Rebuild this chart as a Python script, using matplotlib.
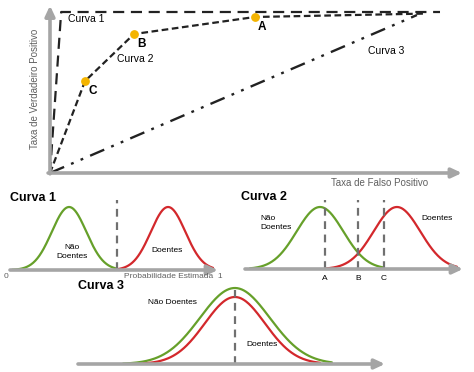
import numpy as np
import matplotlib
matplotlib.use("Agg")
import matplotlib.pyplot as plt

plt.rcParams['font.family'] = ['Liberation Sans', 'DejaVu Sans']

W, H = 474, 372

# ROC curves (false positive rate, true positive rate)
curva1_fpr = [0.0, 0.029, 1.013]
curva1_tpr = [0.0, 1.0, 1.0]
curva2_fpr = [0.0, 0.091, 0.218, 0.532, 0.97]
curva2_tpr = [0.0, 0.571, 0.863, 0.969, 0.99]
curva3_fpr = [0.0, 0.953]
curva3_tpr = [0.0, 0.981]
pontos_nome = ['A', 'B', 'C']
pontos_fpr = [0.532, 0.218, 0.091]
pontos_tpr = [0.969, 0.863, 0.571]

# distributions per panel: mean, sd, height, start, end
c1_sadios = (0.284, 0.083, 63, 0.01, 0.514)
c1_doentes = (0.76, 0.083, 63, 0.514, 0.976)
c1_cortes = [0.514]

c2_sadios = (0.344, 0.107, 62, 0.023, 0.633)
c2_doentes = (0.697, 0.107, 62, 0.367, 0.972)
c2_cortes = [0.367, 0.518, 0.638]
c2_nomes = ['A', 'B', 'C']

c3_sadios = (0.511, 0.114, 76, 0.147, 0.827)
c3_doentes = (0.511, 0.098, 67, 0.212, 0.788)
c3_cortes = [0.511]

GRAY = '#a5a5a5'
GREEN = '#66a02a'
RED = '#d3282c'
DASHGRAY = '#707070'
YELLOW = '#f4b400'
TXTGRAY = '#606060'

fig = plt.figure(figsize=(W / 100, H / 100), dpi=100)


def px_axes(x0, x1, y_base, height):
    # axes placed in pixel units of the figure
    ax = fig.add_axes([x0 / W, (H - y_base) / H, (x1 - x0) / W, height / H])
    ax.set_axis_off()
    return ax


def arrow(ax, x0, y0, x1, y1):
    ax.annotate('', xy=(x1, y1), xytext=(x0, y0), annotation_clip=False,
                arrowprops=dict(arrowstyle='-|>,head_length=0.6,head_width=0.28',
                                color=GRAY, lw=2.6, shrinkA=0, shrinkB=0))


def bell(ax, params, color):
    mu, sd, h, lo, hi = params
    x = np.linspace(lo, hi, 200)
    ax.plot(x, h * np.exp(-0.5 * ((x - mu) / sd) ** 2), color=color, lw=1.6,
            clip_on=False, solid_capstyle='round')


# ---- ROC panel ----
ax = px_axes(50, 435, 173, 161)
ax.set_xlim(0, 1)
ax.set_ylim(0, 1)
arrow(ax, -0.005, 0, 1.07, 0)
arrow(ax, 0, -0.005, 0, 1.04)
ax.plot(curva1_fpr, curva1_tpr, color='#222222', lw=1.6, ls=(0, (5, 3)), clip_on=False)
ax.plot(curva2_fpr, curva2_tpr, color='#222222', lw=1.6, ls=(0, (3, 1.6)), clip_on=False)
ax.plot(curva3_fpr, curva3_tpr, color='#222222', lw=1.7,
        ls=(0, (6.5, 3.2, 1.2, 3.2, 1.2, 3.2)), clip_on=False)
ax.scatter(pontos_fpr, pontos_tpr, s=28, color=YELLOW, zorder=5, clip_on=False)
for n, x, y in zip(pontos_nome, pontos_fpr, pontos_tpr):
    ax.text(x + 0.008, y - 0.025, n, fontsize=8.5, fontweight='bold', va='top', ha='left')
ax.text(0.047, 0.955, 'Curva 1', fontsize=7.5, va='center')
ax.text(0.175, 0.705, 'Curva 2', fontsize=7.5, va='center')
ax.text(0.826, 0.755, 'Curva 3', fontsize=7.5, va='center')
ax.text(-0.04, 0.52, 'Taxa de Verdadeiro Positivo', fontsize=7, color=TXTGRAY,
        rotation=90, ha='center', va='center')
ax.text(0.982, -0.06, 'Taxa de Falso Positivo', fontsize=7, color=TXTGRAY,
        ha='right', va='center')

# ---- Curva 1 panel ----
ax = px_axes(10, 218, 270, 75)
ax.set_xlim(0, 1)
ax.set_ylim(0, 75)
arrow(ax, 0, 0, 1.0, 0)
bell(ax, c1_sadios, GREEN)
bell(ax, c1_doentes, RED)
for c in c1_cortes:
    ax.plot([c, c], [0, 70], color=DASHGRAY, lw=1.6, ls=(0, (3.5, 2.5)))
ax.text(0.0, 72, 'Curva 1', fontsize=9, fontweight='bold', va='center')
ax.text(0.3, 18, 'Não\nDoentes', fontsize=6, ha='center', va='center', linespacing=1.3)
ax.text(0.757, 20, 'Doentes', fontsize=6, ha='center', va='center')
ax.text(-0.02, -6, '0', fontsize=6, color=TXTGRAY, ha='center', va='center')
ax.text(1.02, -6, 'Probabilidade Estimada  1', fontsize=6, color=TXTGRAY, ha='right', va='center')

# ---- Curva 2 panel ----
ax = px_axes(245, 463, 269, 75)
ax.set_xlim(0, 1)
ax.set_ylim(0, 75)
arrow(ax, 0, 0, 1.0, 0)
bell(ax, c2_sadios, GREEN)
bell(ax, c2_doentes, RED)
for c, n in zip(c2_cortes, c2_nomes):
    ax.plot([c, c], [0, 69], color=DASHGRAY, lw=1.6, ls=(0, (3.5, 2.5)))
    ax.text(c, -9, n, fontsize=6, ha='center', va='center')
ax.text(-0.02, 72, 'Curva 2', fontsize=9, fontweight='bold', va='center')
ax.text(0.07, 46, 'Não\nDoentes', fontsize=6, ha='left', va='center', linespacing=1.3)
ax.text(0.81, 51, 'Doentes', fontsize=6, ha='left', va='center')

# ---- Curva 3 panel ----
ax = px_axes(78, 385, 364, 80)
ax.set_xlim(0, 1)
ax.set_ylim(0, 80)
arrow(ax, 0, 0, 1.0, 0)
bell(ax, c3_sadios, GREEN)
bell(ax, c3_doentes, RED)
for c in c3_cortes:
    ax.plot([c, c], [0, 74], color=DASHGRAY, lw=1.6, ls=(0, (3.5, 2.5)))
ax.text(0.0, 78, 'Curva 3', fontsize=9, fontweight='bold', va='center')
ax.text(0.228, 61, 'Não Doentes', fontsize=6, ha='left', va='center')
ax.text(0.55, 20, 'Doentes', fontsize=6, ha='left', va='center')

fig.savefig('out.png', dpi=100)
